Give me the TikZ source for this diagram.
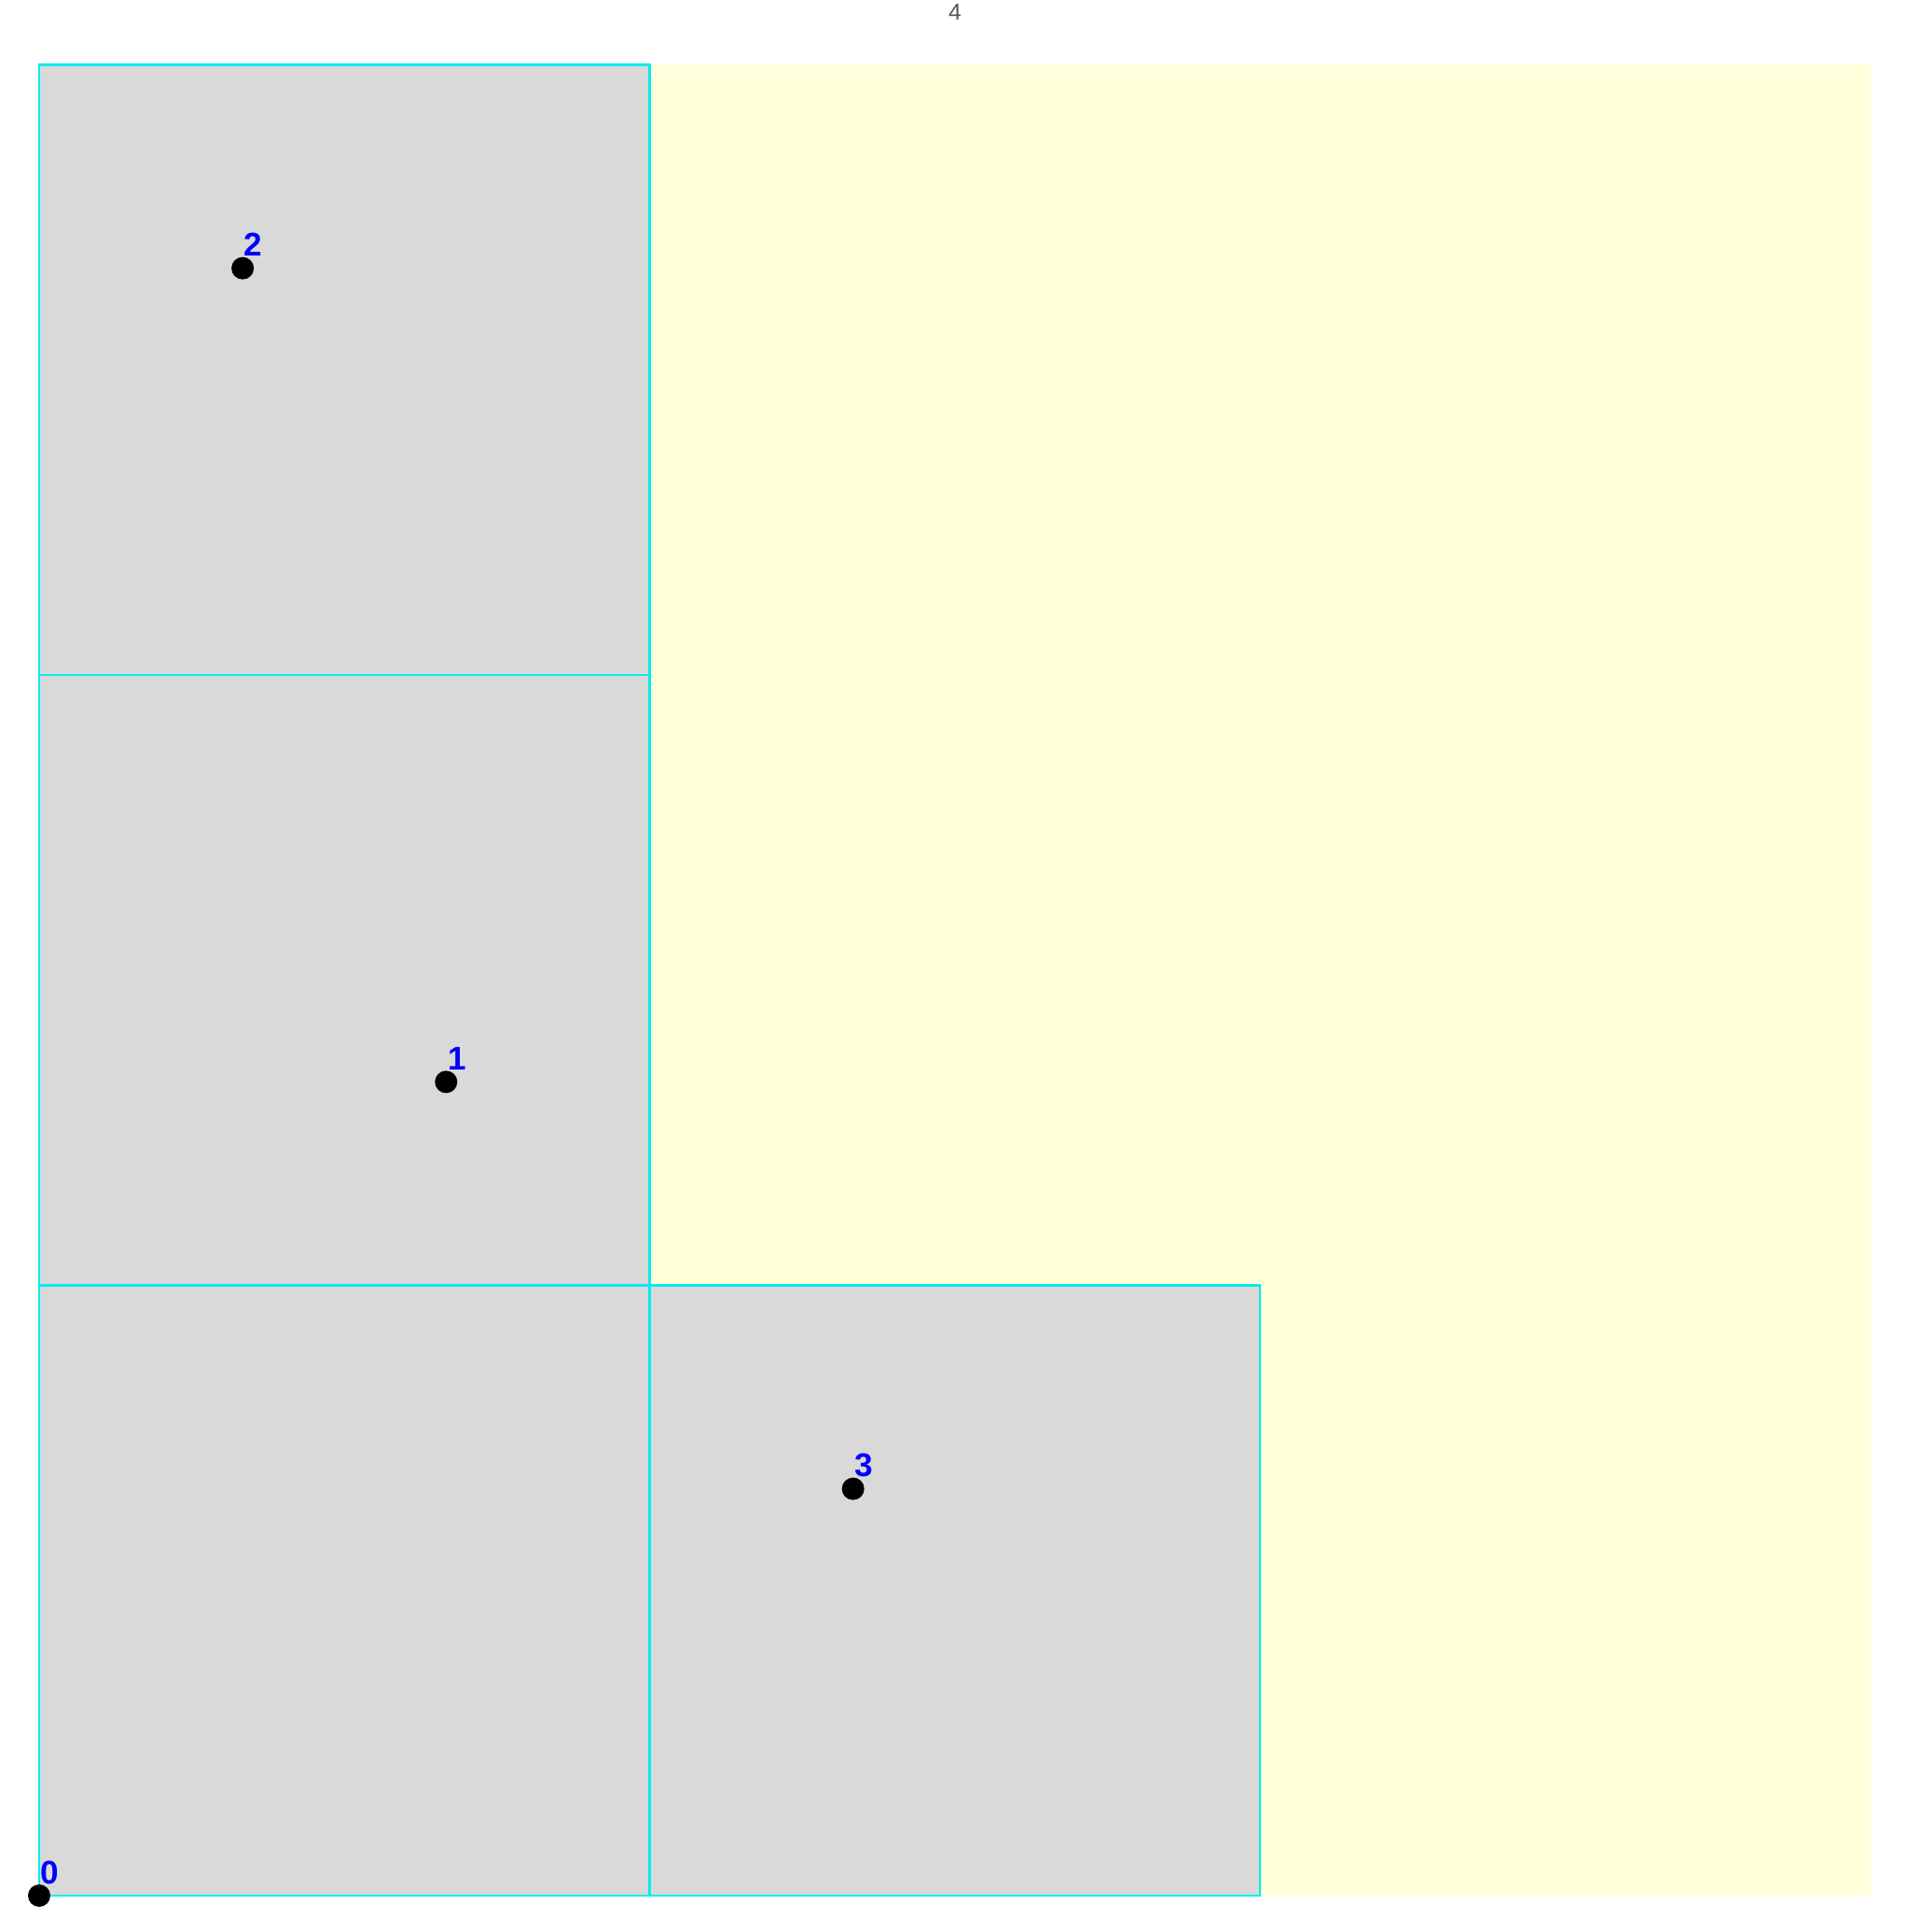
\documentclass[tikz,border=0pt]{standalone}
\usepackage{fontspec}
\setmainfont{Liberation Sans}
\definecolor{bgyellow}{RGB}{255,255,218}
\definecolor{cellgray}{RGB}{217,217,217}
\definecolor{cellline}{RGB}{0,238,238}
\definecolor{titlegray}{RGB}{85,85,85}
\begin{document}
\begin{tikzpicture}[
  cell/.style={fill=cellgray, draw=cellline, line width=0.6pt},
  pt/.style={circle, fill=black, inner sep=0pt, minimum size=0.24cm},
  lbl/.style={text=blue, font=\fontsize{10}{11}\selectfont\bfseries, inner sep=0pt, anchor=base west}
]
\useasboundingbox (0,0) rectangle (20.48,20.72);
\node[text=titlegray, font=\fontsize{7}{8}\selectfont, anchor=base] (title) at (10.24,20.50) {4};
\begin{scope}[shift={(0.42,0.39)}, x=6.545cm, y=6.545cm]
  \fill[bgyellow] (0,0) rectangle (3,3);
  \draw[cell] (0,0) rectangle (1,1);
  \draw[cell] (1,0) rectangle (2,1);
  \draw[cell] (0,1) rectangle (1,2);
  \draw[cell] (0,2) rectangle (1,3);
  \node[pt] (p0) at (0,0) {};
  \node[pt] (p1) at (2/3,4/3) {};
  \node[pt] (p2) at (1/3,8/3) {};
  \node[pt] (p3) at (4/3,2/3) {};
\end{scope}
\node[lbl] (l0) at ([shift={(0.01,0.13)}]p0.center) {0};
\node[lbl] (l1) at ([shift={(0.01,0.13)}]p1.center) {1};
\node[lbl] (l2) at ([shift={(0.01,0.13)}]p2.center) {2};
\node[lbl] (l3) at ([shift={(0.01,0.13)}]p3.center) {3};
\end{tikzpicture}
\end{document}
